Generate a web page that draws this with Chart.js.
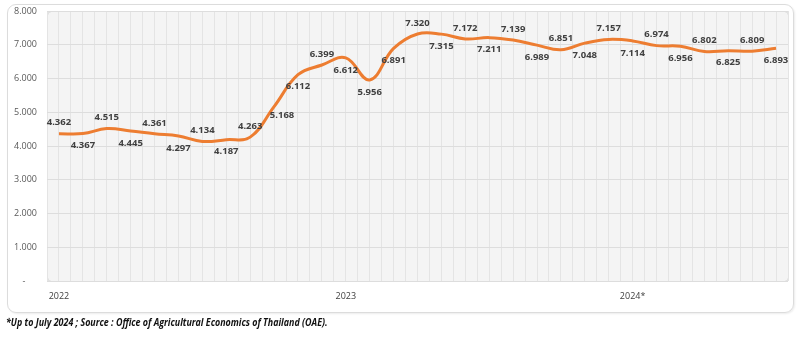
<!DOCTYPE html>
<html>
<head>
<meta charset="utf-8">
<script src="https://cdn.jsdelivr.net/npm/chart.js@4.4.1/dist/chart.umd.min.js"></script>
<style>
  html, body { margin: 0; padding: 0; background: #ffffff; }
  #wrap { position: relative; width: 800px; height: 348px; overflow: hidden; }
  #frame {
    position: absolute; left: 7px; top: 4px; width: 785px; height: 307px;
    border: 1px solid #dcdcdc; border-radius: 9px;
    box-shadow: 1px 1px 2px rgba(0,0,0,0.08);
  }
  #priceChart { position: absolute; left: 0; top: 0; }
  #note {
    position: absolute; left: 6px; top: 315px;
    font-family: "Open Sans", sans-serif;
    font-size: 10px; font-weight: bold; font-style: italic; color: #111111;
    white-space: nowrap;
    transform: scaleX(0.89); transform-origin: left top;
  }
</style>
</head>
<body>
<div id="wrap">
  <div id="frame"></div>
  <canvas id="priceChart" width="800" height="348"></canvas>
  <div id="note">*Up to July 2024 ; Source : Office of Agricultural Economics of Thailand (OAE).</div>
</div>
<script>
// Monthly price, Jan 2022 - Jul 2024
const months = [
  'Jan 2022', 'Feb 2022', 'Mar 2022', 'Apr 2022', 'May 2022', 'Jun 2022',
  'Jul 2022', 'Aug 2022', 'Sep 2022', 'Oct 2022', 'Nov 2022', 'Dec 2022',
  'Jan 2023', 'Feb 2023', 'Mar 2023', 'Apr 2023', 'May 2023', 'Jun 2023',
  'Jul 2023', 'Aug 2023', 'Sep 2023', 'Oct 2023', 'Nov 2023', 'Dec 2023',
  'Jan 2024', 'Feb 2024', 'Mar 2024', 'Apr 2024', 'May 2024', 'Jun 2024',
  'Jul 2024'
];
const yearLabels = ['2022', '2023', '2024*'];
const prices = [
  4362, 4367, 4515, 4445, 4361, 4297, 4134, 4187, 4263, 5168, 6112, 6399,
  6612, 5956, 6891, 7320, 7315, 7172, 7211, 7139, 6989, 6851, 7048, 7157,
  7114, 6974, 6956, 6802, 6825, 6809, 6893
];
const yTicks = [0, 1000, 2000, 3000, 4000, 5000, 6000, 7000, 8000];

// where each value label sits relative to its point
const labelSide = [
  'up', 'down', 'up', 'down', 'up', 'down', 'up', 'down', 'up', 'downRight', 'down', 'up',
  'down', 'down', 'down', 'up', 'down', 'up', 'down', 'up', 'down', 'up', 'down', 'up',
  'down', 'up', 'down', 'up', 'down', 'up', 'down'
];

function formatThousands(v) {
  if (v === 0) return '-     ';
  return String(v).replace(/\B(?=(\d{3})+(?!\d))/g, '.');
}

const plotBackground = {
  id: 'plotBackground',
  beforeDraw(chart) {
    const { ctx, chartArea: a } = chart;
    ctx.save();
    ctx.fillStyle = '#f4f4f4';
    ctx.strokeStyle = '#dadada';
    ctx.lineWidth = 1;
    ctx.beginPath();
    ctx.roundRect(a.left + 0.5, a.top + 0.5, a.width, a.height, 4);
    ctx.fill();
    ctx.stroke();
    ctx.restore();
  }
};

const valueLabels = {
  id: 'valueLabels',
  afterDatasetsDraw(chart) {
    const { ctx } = chart;
    const meta = chart.getDatasetMeta(0);
    ctx.save();
    ctx.font = 'bold 9.5px "Open Sans"';
    ctx.fillStyle = '#404040';
    ctx.textAlign = 'center';
    ctx.textBaseline = 'middle';
    meta.data.forEach((pt, i) => {
      let dx = 0, dy = -11;
      if (labelSide[i] === 'down') dy = 12;
      if (labelSide[i] === 'downRight') { dx = 8; dy = 9; }
      ctx.fillText(formatThousands(prices[i]), pt.x + dx, pt.y + dy);
    });
    ctx.restore();
  }
};

new Chart(document.getElementById('priceChart'), {
  type: 'line',
  data: {
    labels: months,
    datasets: [{
      data: prices,
      borderColor: '#ed7d31',
      borderWidth: 3,
      tension: 0.4,
      pointRadius: 0,
      fill: false
    }]
  },
  options: {
    responsive: false,
    animation: false,
    layout: { padding: { left: 7, right: 12, top: 11, bottom: 0 } },
    plugins: { legend: { display: false }, tooltip: { enabled: false } },
    scales: {
      x: {
        offset: true,
        grid: { display: false, drawTicks: false },
        border: { display: false },
        afterFit: s => { s.height = 67; s.paddingLeft = 0; s.paddingRight = 0; },
        ticks: {
          autoSkip: false,
          maxRotation: 0,
          padding: 10,
          color: '#404040',
          font: { family: 'Open Sans', size: 9 },
          callback: (v, i) => (i % 12 === 0 ? yearLabels[i / 12] : '')
        }
      },
      xMinor: {
        type: 'linear',
        position: 'bottom',
        min: -0.5,
        max: 30.5,
        afterFit: s => { s.height = 0; s.paddingLeft = 0; s.paddingRight = 0; },
        ticks: { display: false, stepSize: 0.5, maxTicksLimit: 100 },
        grid: { color: '#e4e4e4', lineWidth: 1, drawTicks: false },
        border: { display: false }
      },
      y: {
        min: 0,
        max: 8000,
        afterFit: s => { s.width = 40; s.paddingTop = 0; s.paddingBottom = 0; },
        afterBuildTicks: s => { s.ticks = yTicks.map(v => ({ value: v })); },
        grid: { color: '#dddddd', drawTicks: false },
        border: { display: false },
        ticks: {
          padding: 10,
          color: '#595959',
          font: { family: 'Open Sans', size: 9 },
          callback: v => formatThousands(v)
        }
      }
    }
  },
  plugins: [plotBackground, valueLabels]
});
</script>
</body>
</html>
